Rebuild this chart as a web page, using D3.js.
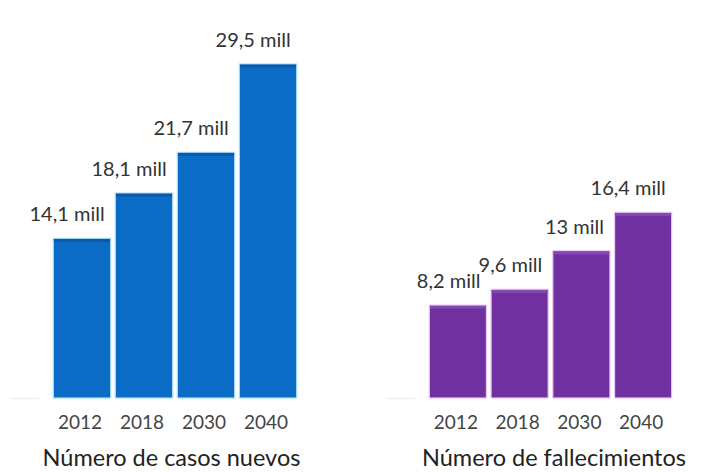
<!DOCTYPE html>
<html>
<head>
<meta charset="utf-8">
<script src="https://cdn.jsdelivr.net/npm/d3@7/dist/d3.min.js"></script>
<style>
  html, body { margin: 0; padding: 0; background: #fff; }
  svg { display: block; }
  text { font-family: Lato, "Open Sans", sans-serif; }
</style>
</head>
<body>
<svg id="chart" width="702" height="472"></svg>
<script>
// Years shown under each group of bars
const years = ["2012", "2018", "2030", "2040"];
// New cancer cases, in millions
const newCases = [14.1, 18.1, 21.7, 29.5];
// Cancer deaths, in millions
const deaths = [8.2, 9.6, 13, 16.4];
// Value labels as printed above the bars
const caseLabels = ["14,1 mill", "18,1 mill", "21,7 mill", "29,5 mill"];
const deathLabels = ["8,2 mill", "9,6 mill", "13 mill", "16,4 mill"];
// Panel titles
const titles = ["Número de casos nuevos", "Número de fallecimientos"];

const svg = d3.select("#chart");

const baseY = 398;
const y = d3.scaleLinear().domain([0, 29.5]).range([baseY, 64]);

const panels = [
  { values: newCases, labels: caseLabels, title: titles[0], range: [53.3, 296.7], titleX: 171.5,
    fill: "#0a6cc6", top: "#0b5aa9", edge: "#a9def6" },
  { values: deaths, labels: deathLabels, title: titles[1], range: [429.3, 671.7], titleX: 554,
    fill: "#7030a0", top: "#8448b4", edge: "#e9c9f3" }
];

panels.forEach(p => {
  const x = d3.scaleBand().domain(years).range(p.range)
    .paddingInner(0.075).paddingOuter(0);
  const g = svg.append("g");
  const rows = years.map((yr, i) => ({ yr, v: p.values[i], label: p.labels[i] }));

  // faint baseline remnant to the left of the bars
  g.append("line")
    .attr("x1", p.range[0] - 42).attr("x2", p.range[0] - 14)
    .attr("y1", baseY + 0.5).attr("y2", baseY + 0.5)
    .attr("stroke", "#eeeeee").attr("stroke-width", 1.5);

  // bars with a light outline
  g.selectAll("rect.bar").data(rows).join("rect")
    .attr("class", "bar")
    .attr("x", d => x(d.yr))
    .attr("y", d => y(d.v))
    .attr("width", x.bandwidth())
    .attr("height", d => baseY - y(d.v))
    .attr("fill", p.fill)
    .attr("stroke", p.edge)
    .attr("stroke-width", 1.2);

  // thin shaded strip along each bar top
  g.selectAll("rect.cap").data(rows).join("rect")
    .attr("class", "cap")
    .attr("x", d => x(d.yr) + 0.6)
    .attr("y", d => y(d.v) + 0.6)
    .attr("width", x.bandwidth() - 1.2)
    .attr("height", 3)
    .attr("fill", p.top);

  // value labels, right-aligned near the bar's right edge
  g.selectAll("text.val").data(rows).join("text")
    .attr("class", "val")
    .attr("x", d => x(d.yr) + x.bandwidth() - 6)
    .attr("y", d => y(d.v) - 17)
    .attr("text-anchor", "end")
    .attr("font-size", 20)
    .attr("fill", "#333")
    .text(d => d.label);

  // year axis labels
  const axis = d3.axisBottom(x).tickSize(0).tickPadding(0);
  const ax = g.append("g").attr("transform", `translate(-2,${baseY + 17})`).call(axis);
  ax.select(".domain").remove();
  ax.selectAll("text")
    .attr("dy", "0.71em")
    .attr("font-size", 19)
    .attr("font-family", "Lato, 'Open Sans', sans-serif")
    .attr("fill", "#444");

  // panel title
  g.append("text")
    .attr("x", p.titleX)
    .attr("y", 466)
    .attr("text-anchor", "middle")
    .attr("font-size", 23.5)
    .attr("fill", "#222")
    .text(p.title);
});
</script>
</body>
</html>
